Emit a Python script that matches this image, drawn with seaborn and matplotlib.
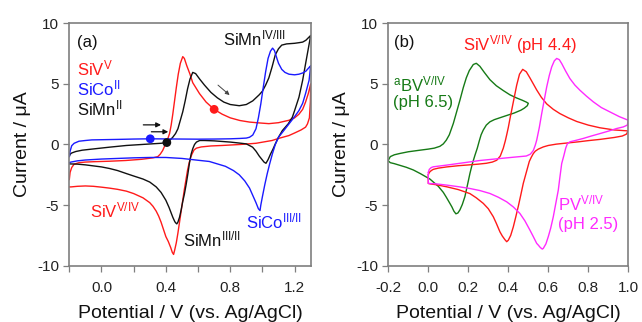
import numpy as np
import pandas as pd
import matplotlib
matplotlib.use("Agg")
import matplotlib.pyplot as plt
from matplotlib.ticker import MultipleLocator, FixedLocator
import seaborn as sns

# ---------------- data: panel (a) ----------------
siv_a_v = [-0.2, -0.195, -0.185, -0.17, -0.14, -0.1, -0.05, 0.05, 0.15, 0.25, 0.32, 0.35, 0.365, 0.38, 0.39,
           0.40, 0.41, 0.423, 0.433, 0.443, 0.454, 0.465, 0.477, 0.49, 0.505, 0.515, 0.53, 0.55, 0.567, 0.609,
           0.65, 0.70, 0.75, 0.80, 0.86, 0.92, 0.98, 1.04, 1.1, 1.165, 1.2, 1.227, 1.25, 1.268, 1.285, 1.3,
           1.298, 1.292, 1.28, 1.268, 1.24, 1.2, 1.165, 1.1, 1.06, 0.96, 0.86, 0.75, 0.68, 0.62, 0.59, 0.575,
           0.562, 0.553, 0.545, 0.535, 0.525, 0.515, 0.505, 0.495, 0.485, 0.475, 0.465, 0.455, 0.448, 0.44,
           0.43, 0.415, 0.40, 0.385, 0.37, 0.355, 0.34, 0.32, 0.30, 0.258, 0.2, 0.155, 0.1, 0.05, 0.0, -0.05,
           -0.1, -0.15, -0.19, -0.2]
siv_a_i = [-2.9, -2.3, -1.9, -1.62, -1.5, -1.45, -1.42, -1.38, -1.32, -1.22, -1.1, -1.0, -0.8, -0.5, -0.2,
           0.05, 0.4, 0.9, 1.6, 2.5, 3.6, 4.7, 5.8, 6.7, 7.25, 7.1, 6.5, 5.8, 5.1, 4.2,
           3.5, 2.9, 2.5, 2.2, 1.98, 1.85, 1.78, 1.72, 1.8, 2.0, 2.2, 2.5, 2.9, 3.5, 4.2, 5.0,
           3.5, 2.2, 1.7, 1.43, 1.2, 0.95, 0.74, 0.5, 0.33, 0.1, 0.0, -0.08, -0.12, -0.2, -0.3, -0.45,
           -0.8, -1.1, -1.5, -2.1, -2.9, -3.7, -4.6, -5.5, -6.4, -7.3, -8.1, -8.7, -9.07, -8.9,
           -8.5, -8.0, -7.6, -7.0, -6.4, -5.9, -5.5, -5.1, -4.8, -4.4, -4.05, -3.85, -3.7, -3.6, -3.52, -3.45,
           -3.42, -3.45, -3.5, -3.5]

sico_a_v = [-0.2, -0.195, -0.185, -0.17, -0.14, -0.1, -0.06, 0.1, 0.2, 0.303, 0.4, 0.5, 0.6, 0.7, 0.8, 0.86,
            0.9, 0.92, 0.94, 0.96, 0.975, 0.99, 1.005, 1.02, 1.035, 1.05, 1.063, 1.075, 1.09, 1.1, 1.12, 1.14,
            1.165, 1.2, 1.227, 1.25, 1.27, 1.293, 1.3,
            1.29, 1.268, 1.25, 1.227, 1.2, 1.165, 1.13, 1.1, 1.08, 1.062, 1.045, 1.03, 1.015, 1.0, 0.99,
            0.985, 0.975, 0.96, 0.94, 0.92, 0.89, 0.856, 0.82, 0.77, 0.72, 0.67, 0.6, 0.5, 0.4, 0.3, 0.2,
            0.1, 0.0, -0.1, -0.15, -0.19, -0.2]
sico_a_i = [-1.0, -0.55, -0.1, 0.1, 0.27, 0.33, 0.38, 0.42, 0.45, 0.47, 0.46, 0.45, 0.44, 0.45, 0.47, 0.5,
            0.53, 0.6, 0.78, 1.3, 2.2, 3.35, 4.7, 6.0, 7.1, 7.7, 7.95, 7.75, 7.1, 6.7, 6.2, 5.95,
            5.8, 5.75, 5.8, 5.9, 6.05, 6.4, 6.5,
            5.3, 4.2, 3.4, 2.8, 2.3, 1.7, 1.1, 0.6, 0.0, -0.77, -1.6, -2.4, -3.3, -4.3, -5.0,
            -5.45, -5.3, -4.8, -4.2, -3.6, -3.0, -2.5, -2.15, -1.8, -1.6, -1.4, -1.3, -1.15, -1.07, -1.07, -1.1,
            -1.15, -1.2, -1.28, -1.35, -1.45, -1.5]

simn_a_v = [-0.2, -0.195, -0.185, -0.16, -0.12, -0.06, 0.05, 0.155, 0.25, 0.32, 0.37, 0.406, 0.425, 0.443,
            0.46, 0.475, 0.49, 0.505, 0.52, 0.535, 0.55, 0.567, 0.585, 0.61, 0.64, 0.68, 0.72, 0.76, 0.80,
            0.856, 0.9, 0.94, 0.98, 1.0, 1.02, 1.04, 1.06, 1.08, 1.1, 1.12, 1.15, 1.2, 1.227, 1.25, 1.27,
            1.285, 1.3,
            1.285, 1.268, 1.25, 1.227, 1.2, 1.186, 1.16, 1.124, 1.1, 1.08, 1.065, 1.05, 1.035, 1.022, 1.01,
            0.995, 0.98, 0.96, 0.939, 0.9, 0.856, 0.8, 0.7, 0.64, 0.61, 0.59, 0.578, 0.567, 0.557, 0.547,
            0.537, 0.526, 0.515, 0.505, 0.495, 0.485, 0.475, 0.468, 0.46, 0.455, 0.443, 0.42, 0.40, 0.37,
            0.34, 0.30, 0.258, 0.2, 0.155, 0.1, 0.05, 0.0, -0.1, -0.15, -0.2]
simn_a_i = [-1.0, -0.8, -0.7, -0.58, -0.47, -0.38, -0.22, -0.08, 0.0, 0.06, 0.1, 0.16, 0.35, 0.6,
            0.9, 1.3, 2.0, 2.7, 3.6, 4.6, 5.4, 5.95, 5.85, 5.4, 4.9, 4.3, 3.85, 3.5, 3.3,
            3.2, 3.3, 3.6, 4.1, 4.4, 4.9, 5.5, 6.4, 7.4, 7.9, 8.2, 8.3, 8.35, 8.4, 8.45, 8.6,
            8.8, 9.0,
            7.9, 6.65, 5.3, 3.9, 2.8, 2.25, 1.7, 1.15, 0.6, 0.05, -0.4, -0.8, -1.25, -1.55, -1.45,
            -1.2, -0.95, -0.55, -0.22, 0.05, 0.12, 0.2, 0.3, 0.33, 0.33, 0.2, 0.0, -0.35, -0.8, -1.5,
            -2.4, -3.3, -4.1, -4.7, -5.4, -6.0, -6.4, -6.55, -6.45, -6.35, -6.0, -5.2, -4.6, -3.95,
            -3.5, -3.1, -2.85, -2.6, -2.4, -2.15, -1.98, -1.85, -1.68, -1.62, -1.6]

start_v = [0.70, 0.303, 0.406]
start_i = [2.9, 0.47, 0.16]
start_names = ["SiV", "SiCo", "SiMn"]

# ---------------- data: panel (b) ----------------
bv_v = [-0.2, -0.19, -0.17, -0.142, -0.1, -0.042, 0.0, 0.03, 0.058, 0.075, 0.09, 0.105, 0.125, 0.14, 0.158,
        0.175, 0.19, 0.205, 0.225, 0.24, 0.258, 0.28, 0.308, 0.34, 0.375, 0.408, 0.44, 0.47, 0.49, 0.5,
        0.495, 0.48, 0.463, 0.43, 0.397, 0.375, 0.33, 0.308, 0.29, 0.275, 0.264, 0.255, 0.245, 0.233, 0.22,
        0.208, 0.195, 0.183, 0.17, 0.158, 0.148, 0.138, 0.128, 0.118, 0.108, 0.09, 0.075, 0.05, 0.008,
        -0.04, -0.075, -0.11, -0.142, -0.17, -0.19, -0.2]
bv_i = [-1.3, -1.0, -0.85, -0.74, -0.6, -0.47, -0.38, -0.3, -0.15, 0.05, 0.36, 0.8, 1.73, 2.6, 3.65,
        4.7, 5.5, 6.1, 6.6, 6.7, 6.45, 5.95, 5.35, 4.85, 4.45, 4.1, 3.85, 3.65, 3.5, 3.4,
        3.2, 3.0, 2.83, 2.6, 2.42, 2.3, 2.05, 1.87, 1.6, 1.2, 0.8, 0.3, -0.3, -0.9, -1.6,
        -2.4, -3.4, -4.3, -4.95, -5.4, -5.65, -5.72, -5.5, -5.15, -4.86, -4.35, -3.95, -3.45, -2.85,
        -2.4, -2.1, -1.88, -1.72, -1.58, -1.5, -1.35]

siv_b_v = [0.0, 0.005, 0.015, 0.025, 0.05, 0.092, 0.15, 0.19, 0.25, 0.29, 0.32, 0.342, 0.36, 0.375, 0.385,
           0.392, 0.4, 0.408, 0.425, 0.442, 0.456, 0.472, 0.49, 0.508, 0.525, 0.542, 0.565, 0.592, 0.625,
           0.658, 0.7, 0.742, 0.8, 0.858, 0.93, 1.0,
           0.99, 0.97, 0.93, 0.858, 0.8, 0.75, 0.692, 0.64, 0.6, 0.575, 0.55, 0.535, 0.525, 0.515, 0.505,
           0.495, 0.485, 0.475, 0.462, 0.45, 0.437, 0.425, 0.412, 0.4, 0.392, 0.383, 0.37, 0.358, 0.34,
           0.325, 0.3, 0.275, 0.24, 0.208, 0.15, 0.092, 0.04, 0.01, 0.0, 0.0]
siv_b_i = [-2.5, -2.3, -2.15, -2.05, -1.95, -1.85, -1.75, -1.7, -1.62, -1.55, -1.45, -1.3, -0.95, -0.3, 0.3,
           0.8, 1.4, 2.1, 3.5, 4.9, 5.8, 6.2, 6.0, 5.5, 5.0, 4.5, 3.9, 3.35, 2.9,
           2.55, 2.2, 1.9, 1.6, 1.38, 1.2, 1.12,
           0.85, 0.7, 0.58, 0.42, 0.32, 0.22, 0.12, 0.03, -0.08, -0.2, -0.38, -0.55, -0.75, -1.05, -1.4,
           -2.0, -2.6, -3.2, -4.2, -5.1, -6.0, -6.8, -7.5, -7.9, -8.02, -7.85, -7.55, -7.2, -6.5,
           -5.96, -5.3, -4.86, -4.4, -4.05, -3.72, -3.49, -3.32, -3.25, -3.21, -2.5]

pv_v = [0.0, 0.005, 0.015, 0.025, 0.092, 0.18, 0.258, 0.35, 0.425, 0.49, 0.51, 0.525, 0.535, 0.542, 0.555,
        0.567, 0.58, 0.592, 0.605, 0.617, 0.63, 0.642, 0.655, 0.667, 0.687, 0.708, 0.733, 0.758, 0.79,
        0.825, 0.865, 0.908, 0.955, 1.0,
        0.995, 0.975, 0.942, 0.9, 0.858, 0.815, 0.775, 0.74, 0.708, 0.695, 0.687, 0.678, 0.667, 0.658,
        0.65, 0.637, 0.625, 0.612, 0.6, 0.588, 0.575, 0.57, 0.56, 0.55, 0.542, 0.525, 0.508, 0.483,
        0.458, 0.425, 0.392, 0.35, 0.308, 0.258, 0.208, 0.15, 0.092, 0.04, 0.0, 0.0]
pv_i = [-2.3, -2.05, -1.9, -1.84, -1.7, -1.5, -1.32, -1.17, -1.05, -0.95, -0.8, -0.5, -0.05, 0.36, 1.4,
        2.55, 3.7, 4.75, 5.7, 6.4, 6.9, 7.1, 7.0, 6.68, 6.05, 5.44, 4.9, 4.48, 4.0,
        3.52, 3.05, 2.69, 2.3, 2.0,
        1.6, 1.45, 1.32, 1.1, 0.9, 0.7, 0.5, 0.35, 0.22, 0.05, -0.3, -0.9, -1.57, -2.7,
        -3.76, -4.9, -5.96, -6.9, -7.6, -8.2, -8.57, -8.63, -8.5, -8.3, -8.16, -7.6, -7.06, -6.3,
        -5.69, -5.15, -4.73, -4.35, -4.04, -3.8, -3.63, -3.48, -3.35, -3.25, -3.21, -2.3]

x_ticks_a = [0.0, 0.4, 0.8, 1.2]
x_ticks_b = [-0.2, 0.0, 0.2, 0.4, 0.6, 0.8, 1.0]
y_ticks = [-10, -5, 0, 5, 10]

# ---------------- style ----------------
sns.set_theme(style="ticks")
plt.rcParams["font.family"] = ["Liberation Sans", "DejaVu Sans"]
plt.rcParams["mathtext.fontset"] = "custom"
plt.rcParams["mathtext.rm"] = "Liberation Sans"
plt.rcParams["mathtext.it"] = "Liberation Sans:italic"

RED = "#ff1a1a"
BLUE = "#1a1aff"
BLACK = "#111111"
GREEN = "#167a16"
MAGENTA = "#ff2aff"
SPINE = "#7f7f7f"

fig = plt.figure(figsize=(6.42, 3.22), dpi=100)
ax_a = fig.add_axes([69.3 / 642, 1 - 265.7 / 322, 241.4 / 642, 242.4 / 322])
ax_b = fig.add_axes([388.3 / 642, 1 - 265.7 / 322, 240.0 / 642, 242.4 / 322])

lw = 1.0
def cv(ax, v, i, color):
    sns.lineplot(x=v, y=i, ax=ax, sort=False, estimator=None, color=color, lw=lw)

cv(ax_a, siv_a_v, siv_a_i, RED)
cv(ax_a, simn_a_v, simn_a_i, BLACK)
cv(ax_a, sico_a_v, sico_a_i, BLUE)

dots = pd.DataFrame({"v": start_v, "i": start_i, "name": start_names})
sns.scatterplot(data=dots, x="v", y="i", hue="name", palette={"SiV": RED, "SiCo": BLUE, "SiMn": BLACK},
                s=40, edgecolor="none", ax=ax_a, legend=False, zorder=5)

cv(ax_b, bv_v, bv_i, GREEN)
cv(ax_b, siv_b_v, siv_b_i, RED)
cv(ax_b, pv_v, pv_i, MAGENTA)

for ax in (ax_a, ax_b):
    ax.set_ylim(-10, 10)
    ax.set_yticks(y_ticks)
    ax.set_yticklabels([str(t) for t in y_ticks])
    for s in ax.spines.values():
        s.set_visible(True)
        s.set_color(SPINE)
        s.set_linewidth(1.2)
    ax.tick_params(which="both", direction="out", length=4.5, width=0.9, color=SPINE,
                   labelsize=11, labelcolor="#222222")
    ax.tick_params(axis="x", which="both", pad=6.5)
    ax.tick_params(axis="y", which="both", pad=3)
    ax.set_xlabel("Potential / V (vs. Ag/AgCl)", fontsize=14, labelpad=7, color="#111111")
    ax.set_ylabel("Current / μA", fontsize=14, labelpad=4, color="#111111")

ax_a.set_xlim(-0.2, 1.3)
ax_a.xaxis.set_major_locator(FixedLocator(x_ticks_a))
ax_a.set_xticklabels([f"{t:.1f}" for t in x_ticks_a])
ax_a.xaxis.set_minor_locator(FixedLocator([-0.2, 0.2, 0.6, 1.0]))

ax_b.set_xlim(-0.2, 1.0)
ax_b.set_xticks(x_ticks_b)
ax_b.set_xticklabels([f"{t:.1f}" for t in x_ticks_b])

# ---------------- annotations (a) ----------------
fs = 12
ax_a.text(-0.152, 8.43, "(a)", fontsize=fs, color=BLACK, va="center")
ax_a.text(-0.152, 6.27, r"SiV$^{\mathrm{V}}$", fontsize=fs, color=RED, va="center")
ax_a.text(-0.152, 4.62, r"SiCo$^{\mathrm{II}}$", fontsize=fs, color=BLUE, va="center")
ax_a.text(-0.152, 2.97, r"SiMn$^{\mathrm{II}}$", fontsize=fs, color=BLACK, va="center")
ax_a.text(0.753, 8.74, r"SiMn$^{\mathrm{IV/III}}$", fontsize=fs, color=BLACK, va="center")
ax_a.text(-0.072, -5.42, r"SiV$^{\mathrm{V/IV}}$", fontsize=fs, color=RED, va="center")
ax_a.text(0.505, -7.81, r"SiMn$^{\mathrm{III/II}}$", fontsize=fs, color=BLACK, va="center")
ax_a.text(0.898, -6.38, r"SiCo$^{\mathrm{III/II}}$", fontsize=fs, color=BLUE, va="center")

arrow_kw = dict(arrowstyle="-|>", color=BLACK, lw=0.9, mutation_scale=7, shrinkA=0, shrinkB=0)
ax_a.annotate("", xy=(0.37, 1.62), xytext=(0.26, 1.62), arrowprops=arrow_kw)
ax_a.annotate("", xy=(0.415, 1.05), xytext=(0.31, 1.05), arrowprops=arrow_kw)
ax_a.annotate("", xy=(0.796, 4.08), xytext=(0.724, 4.9),
              arrowprops=dict(arrowstyle="-|>", color="#444444", lw=0.7, mutation_scale=6,
                              shrinkA=0, shrinkB=0))

# ---------------- annotations (b) ----------------
ax_b.text(-0.172, 8.43, "(b)", fontsize=fs, color=BLACK, va="center")
ax_b.text(0.172, 8.27, r"SiV$^{\mathrm{V/IV}}$ (pH 4.4)", fontsize=fs, color=RED, va="center")
ax_b.text(-0.178, 4.97, r"${}^{\mathrm{a}}$BV$^{\mathrm{V/IV}}$", fontsize=fs, color=GREEN, va="center")
ax_b.text(-0.178, 3.45, "(pH 6.5)", fontsize=fs, color=GREEN, va="center")
ax_b.text(0.647, -4.85, r"PV$^{\mathrm{V/IV}}$", fontsize=fs, color=MAGENTA, va="center")
ax_b.text(0.647, -6.57, "(pH 2.5)", fontsize=fs, color=MAGENTA, va="center")

fig.savefig("out.png", dpi=100)
